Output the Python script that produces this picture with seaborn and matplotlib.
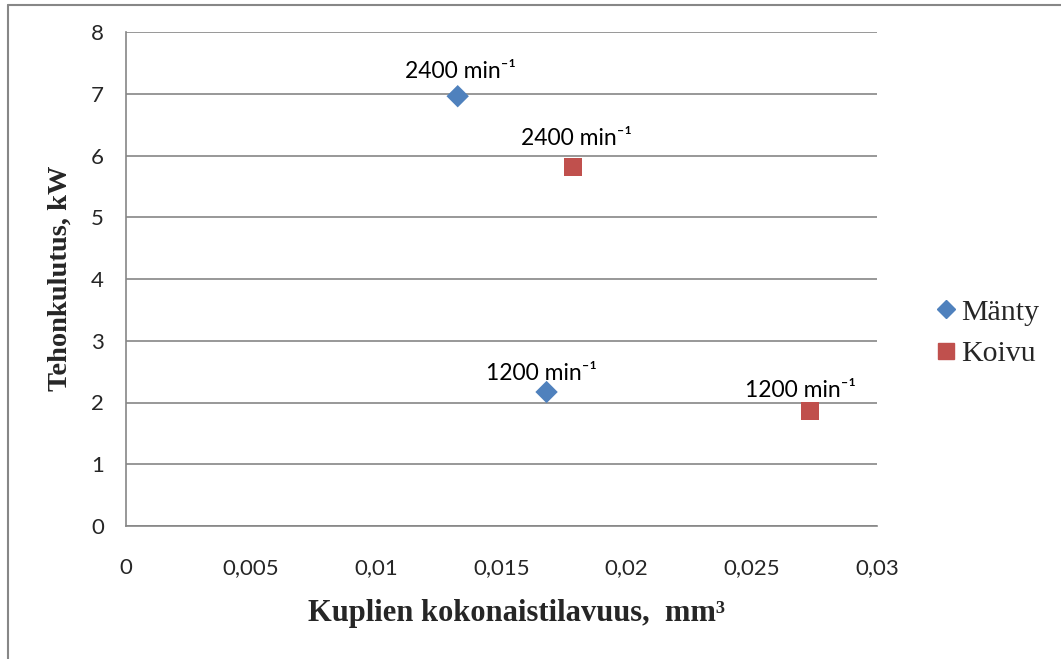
import matplotlib
matplotlib.use("Agg")
import matplotlib.pyplot as plt
import seaborn as sns
import pandas as pd
from matplotlib.lines import Line2D

# Bubble volume vs. power consumption for two wood species
species = ["Mänty", "Mänty", "Koivu", "Koivu"]
volume_mm3 = [0.01325, 0.0168, 0.01787, 0.02733]
power_kw = [6.96, 2.17, 5.81, 1.86]
speed_labels = ["2400 min\u207b\u00b9", "1200 min\u207b\u00b9", "2400 min\u207b\u00b9", "1200 min\u207b\u00b9"]

x_ticks = [0, 0.005, 0.01, 0.015, 0.02, 0.025, 0.03]
x_tick_labels = ["0", "0,005", "0,01", "0,015", "0,02", "0,025", "0,03"]
y_ticks = [0, 1, 2, 3, 4, 5, 6, 7, 8]

df = pd.DataFrame({"laji": species, "tilavuus": volume_mm3, "teho": power_kw})

colors = {"Mänty": "#4F81BD", "Koivu": "#C0504D"}
markers = {"Mänty": "D", "Koivu": "s"}

sns.set_style("white")
tick_font = ["Lato", "DejaVu Sans"]
serif_font = ["Liberation Serif", "DejaVu Serif"]

fig = plt.figure(figsize=(10.61, 6.59), dpi=100)
ax = fig.add_axes([126 / 1061, 1 - 526 / 659, (877 - 126) / 1061, (526 - 32) / 659])

for name in ["Mänty", "Koivu"]:
    sub = df[df["laji"] == name]
    sns.scatterplot(data=sub, x="tilavuus", y="teho", ax=ax, color=colors[name],
                    marker=markers[name], s=130 if name == "Mänty" else 170,
                    edgecolor="none", legend=False, zorder=3)

ax.set_xlim(0, 0.03)
ax.set_ylim(0, 8)
ax.set_xticks(x_ticks)
ax.set_xticklabels(x_tick_labels, family=tick_font, fontsize=16)
ax.set_yticks(y_ticks)
ax.set_yticklabels([str(v) for v in y_ticks], family=tick_font, fontsize=16)
ax.tick_params(axis="both", length=0)
ax.tick_params(axis="x", pad=23)
ax.tick_params(axis="y", pad=16)

ax.yaxis.grid(True, color="#868686", linewidth=1.2)
ax.xaxis.grid(False)
for side in ["top", "right"]:
    ax.spines[side].set_visible(False)
for side in ["left", "bottom"]:
    ax.spines[side].set_color("#868686")
    ax.spines[side].set_linewidth(1.2)
ax.set_xlabel("")
ax.set_ylabel("")

# Rotation speed labels above each point
offsets = [(2, 18), (-4, 13), (2, 21), (-7, 15)]
for xv, yv, lab, off in zip(volume_mm3, power_kw, speed_labels, offsets):
    ax.annotate(lab, (xv, yv), xytext=off, textcoords="offset points",
                ha="center", va="center", family=tick_font, fontsize=16.5,
                color="black", zorder=4)

fig.text(516 / 1061, 1 - 613 / 659, "Kuplien kokonaistilavuus,  mm\u00b3",
         ha="center", va="center", family=serif_font, fontsize=22, fontweight="bold")
fig.text(60 / 1061, 1 - 278 / 659, "Tehonkulutus, kW", rotation=90,
         ha="center", va="center", family=serif_font, fontsize=20.5, fontweight="bold")

handles = [
    Line2D([], [], linestyle="none", marker="D", markersize=9, color=colors["Mänty"]),
    Line2D([], [], linestyle="none", marker="s", markersize=11, color=colors["Koivu"]),
]
fig.legend(handles, ["Mänty", "Koivu"], loc="center left",
           bbox_to_anchor=(924 / 1061, 1 - 333 / 659), frameon=False,
           prop={"family": serif_font, "size": 21.5}, handlelength=0.5,
           handletextpad=0.25, labelspacing=0.5, borderpad=0)

# Outer chart border (top and left edges)
border = dict(color="#878787", linewidth=1.5, transform=fig.transFigure, clip_on=False)
fig.add_artist(Line2D([8 / 1061, 1], [1 - 5 / 659, 1 - 5 / 659], **border))
fig.add_artist(Line2D([8 / 1061, 8 / 1061], [0, 1 - 5 / 659], **border))

fig.savefig("out.png", dpi=100)
